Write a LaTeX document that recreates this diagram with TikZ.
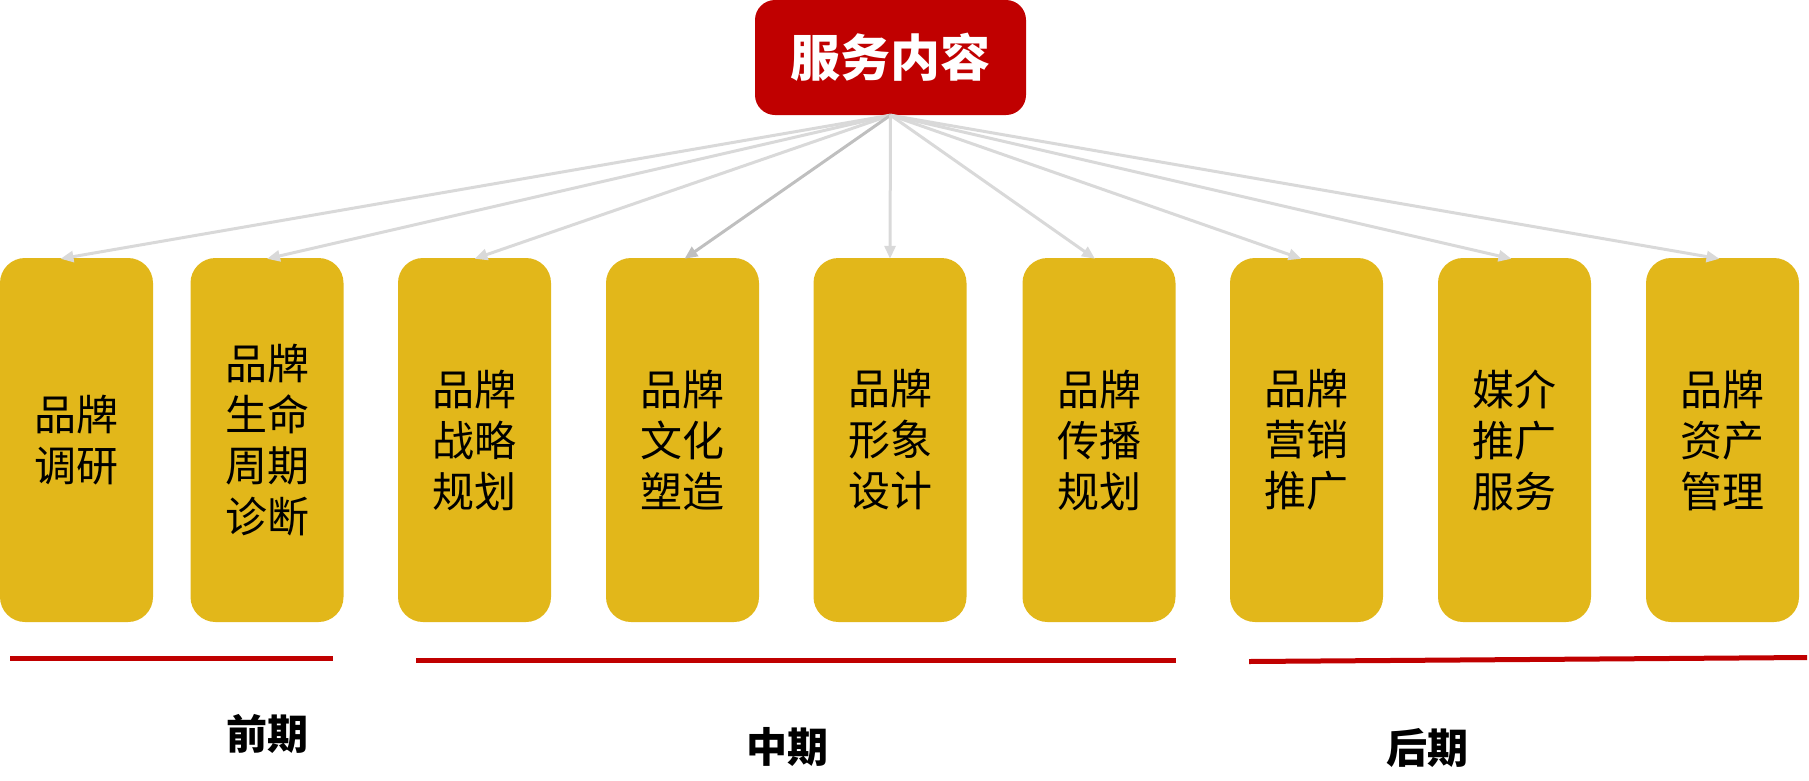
\documentclass[tikz,border=0pt]{standalone}
\usepackage{fontspec}
\newfontfamily\cjk{Noto Sans CJK SC}
\usetikzlibrary{arrows.meta}
\definecolor{topred}{HTML}{C00000}
\definecolor{boxgold}{HTML}{E2B71A}
\definecolor{linkgray}{HTML}{D9D9D9}
\definecolor{linkdark}{HTML}{BFBFBF}
\tikzset{
  titlebox/.style={fill=topred, rounded corners=20pt, minimum width=271pt, minimum height=115pt, inner sep=0pt, text=white, font=\cjk\bfseries\fontsize{50}{60}\selectfont},
  itembox/.style={fill=boxgold, rounded corners=25pt, minimum width=153pt, minimum height=364pt, inner sep=0pt, align=center, text=black, font=\cjk\fontsize{42}{51}\selectfont},
  link/.style={draw=linkgray, line width=3pt, -{Triangle[length=13pt,width=11pt]}},
  phaseline/.style={draw=topred, line width=5pt},
  phaselabel/.style={font=\cjk\bfseries\fontsize{41}{48}\selectfont, text=black, inner sep=0pt}
}
\begin{document}
\begin{tikzpicture}[x=1pt,y=-1pt]
\useasboundingbox (0,0) rectangle (1809,780);
\node[titlebox] (t) at (890.5,57.5) {服务内容};
\node[itembox] (b1) at (76.5,440) {品牌\\调研};
\node[itembox] (b2) at (267,440) {品牌\\生命\\周期\\诊断};
\node[itembox] (b3) at (474.5,440) {品牌\\战略\\规划};
\node[itembox] (b4) at (682.5,440) {品牌\\文化\\塑造};
\node[itembox] (b5) at (890,440) {品牌\\形象\\设计};
\node[itembox] (b6) at (1099,440) {品牌\\传播\\规划};
\node[itembox] (b7) at (1306.5,440) {品牌\\营销\\推广};
\node[itembox] (b8) at (1514.5,440) {媒介\\推广\\服务};
\node[itembox] (b9) at (1722.5,440) {品牌\\资产\\管理};
\coordinate (apex) at (t.south);
\draw[link] (apex) -- ([xshift=-16pt,yshift=-1pt]b1.north);
\draw[link] (apex) -- ([yshift=-1pt]b2.north);
\draw[link] (apex) -- ([yshift=-1pt]b3.north);
\draw[link, draw=linkdark] (apex) -- ([xshift=2pt,yshift=-1pt]b4.north);
\draw[link] (apex) -- ([yshift=-1pt]b5.north);
\draw[link] (apex) -- ([xshift=-4pt,yshift=-1pt]b6.north);
\draw[link] (apex) -- ([xshift=-5pt,yshift=-1pt]b7.north);
\draw[link] (apex) -- ([xshift=-3pt,yshift=-1pt]b8.north);
\draw[link] (apex) -- ([xshift=-3pt,yshift=-1pt]b9.north);
\coordinate (l1a) at (10,658.5);
\coordinate (l1b) at (333,658.5);
\coordinate (l2a) at (416,660.5);
\coordinate (l2b) at (1176,660.5);
\coordinate (l3a) at (1249,661.5);
\coordinate (l3b) at (1807,657.5);
\draw[phaseline] (l1a) -- (l1b);
\draw[phaseline] (l2a) -- (l2b);
\draw[phaseline] (l3a) -- (l3b);
\node[phaselabel] (p1) at (267,734) {前期};
\node[phaselabel] (p2) at (787,747) {中期};
\node[phaselabel] (p3) at (1427,748) {后期};
\end{tikzpicture}
\end{document}
